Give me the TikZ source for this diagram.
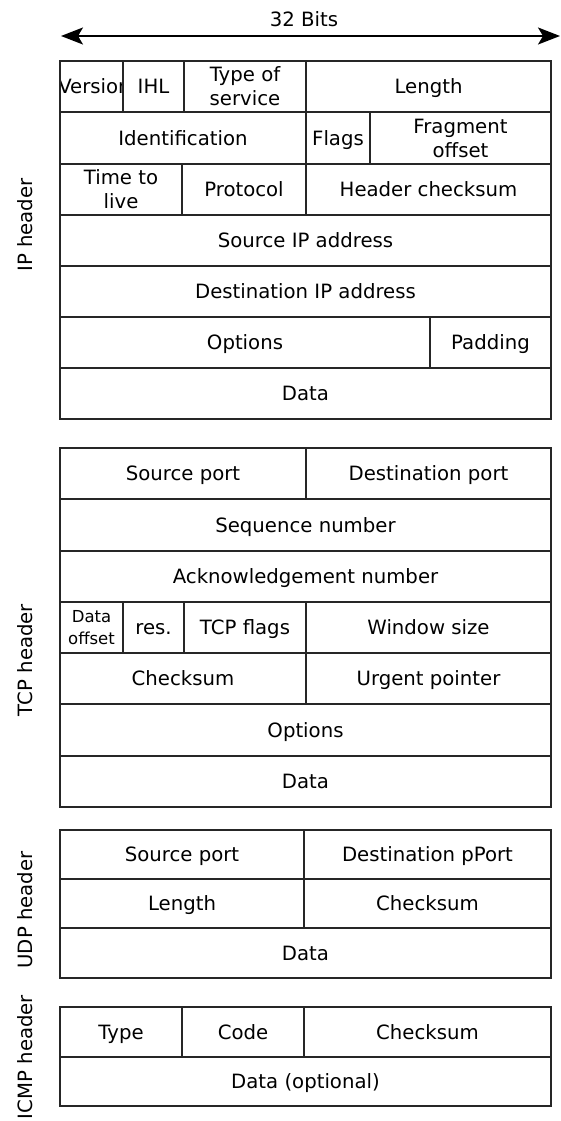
\documentclass[tikz,border=0pt]{standalone}
\usepackage{fontspec}
\setmainfont{DejaVu Sans}
\usetikzlibrary{arrows.meta}

\begin{document}
\begin{tikzpicture}[x=1pt, y=-1pt,
		felt/.style={draw=black!85, line width=1.7pt, inner sep=0pt, align=center, minimum height=51pt,
			text height=14.4pt, text depth=0pt, font=\fontsize{19.7}{24}\selectfont},
		tolinjer/.style={text height={}, text depth={}},
		lav/.style={minimum height=49.5pt},
		smal/.style={font=\fontsize{16.5}{21.5}\selectfont},
		tekst/.style={inner sep=0pt, text height=14.4pt, text depth=0pt, font=\fontsize{19.7}{24}\selectfont},
		sidetekst/.style={tekst, rotate=90}]
		\useasboundingbox (0,0) rectangle (561,1121);

		% Bredde
		\node[tekst] (bits) at (304,19.2) {32 Bits};
		\coordinate (bitsv) at (61,36);
		\coordinate (bitsh) at (560,36);
		\draw[line width=2pt, {Stealth[length=22pt,width=17pt,inset=5pt]}-{Stealth[length=22pt,width=17pt,inset=5pt]}] (bitsv) -- (bitsh);

		% IP-hode
		\node[sidetekst] (ipside) at (25,225) {IP header};
		\begin{scope}
			\clip (60,61) rectangle (123,112);
			\node[tekst, xshift=3pt] (versjon) at (91.5,86.5) {Version};
		\end{scope}
		\draw[draw=black!85, line width=1.7pt] (60,61) rectangle (123,112);
		\node[felt, minimum width=61pt] (ihl) at (153.5,86.5) {IHL};
		\node[felt, tolinjer, minimum width=122pt] (tos) at (245,86.5) {Type of\\service};
		\node[felt, minimum width=245pt] (iplengde) at (428.5,86.5) {Length};
		\node[felt, minimum width=246pt] (ident) at (183,138) {Identification};
		\node[felt, minimum width=64pt] (flagg) at (338,138) {Flags};
		\node[felt, tolinjer, minimum width=181pt] (fragment) at (460.5,138) {Fragment\\offset};
		\node[felt, tolinjer, minimum width=122pt] (ttl) at (121,189.5) {Time to\\live};
		\node[felt, minimum width=124pt] (protokoll) at (244,189.5) {Protocol};
		\node[felt, minimum width=245pt] (hodesum) at (428.5,189.5) {Header checksum};
		\node[felt, minimum width=491pt] (kildeip) at (305.5,240.5) {Source IP address};
		\node[felt, minimum width=491pt] (malip) at (305.5,291.5) {Destination IP address};
		\node[felt, minimum width=370pt] (ipvalg) at (245,342.5) {Options};
		\node[felt, minimum width=121pt] (padding) at (490.5,342.5) {Padding};
		\node[felt, minimum width=491pt] (ipdata) at (305.5,393.5) {Data};

		% TCP-hode
		\node[sidetekst] (tcpside) at (25,660) {TCP header};
		\node[felt, minimum width=246pt] (tcpkilde) at (183,473.5) {Source port};
		\node[felt, minimum width=245pt] (tcpmal) at (428.5,473.5) {Destination port};
		\node[felt, minimum width=491pt] (sekvens) at (305.5,525) {Sequence number};
		\node[felt, minimum width=491pt] (kvittering) at (305.5,576.5) {Acknowledgement number};
		\node[felt, tolinjer, smal, minimum width=63pt] (dataoff) at (91.5,627.5) {Data\\offset};
		\node[felt, minimum width=61pt] (res) at (153.5,627.5) {res.};
		\node[felt, minimum width=122pt] (tcpflagg) at (245,627.5) {TCP flags};
		\node[felt, minimum width=245pt] (vindu) at (428.5,627.5) {Window size};
		\node[felt, minimum width=246pt] (tcpsum) at (183,678.5) {Checksum};
		\node[felt, minimum width=245pt] (haster) at (428.5,678.5) {Urgent pointer};
		\node[felt, minimum width=491pt] (tcpvalg) at (305.5,730) {Options};
		\node[felt, minimum width=491pt] (tcpdata) at (305.5,781.5) {Data};

		% UDP-hode
		\node[sidetekst] (udpside) at (25,910) {UDP header};
		\node[felt, lav, minimum width=244pt] (udpkilde) at (182,854.5) {Source port};
		\node[felt, lav, minimum width=247pt] (udpmal) at (427.5,854.5) {Destination pPort};
		\node[felt, lav, minimum width=244pt] (udplengde) at (182,903.5) {Length};
		\node[felt, lav, minimum width=247pt] (udpsum) at (427.5,903.5) {Checksum};
		\node[felt, lav, minimum width=491pt] (udpdata) at (305.5,953) {Data};

		% ICMP-hode
		\node[sidetekst] (icmpside) at (25,1057) {ICMP header};
		\node[felt, lav, minimum width=122pt] (type) at (121,1032) {Type};
		\node[felt, lav, minimum width=122pt] (kode) at (243,1032) {Code};
		\node[felt, lav, minimum width=247pt] (icmpsum) at (427.5,1032) {Checksum};
		\node[felt, lav, minimum width=491pt] (icmpdata) at (305.5,1081.5) {Data (optional)};
	\end{tikzpicture}
\end{document}
